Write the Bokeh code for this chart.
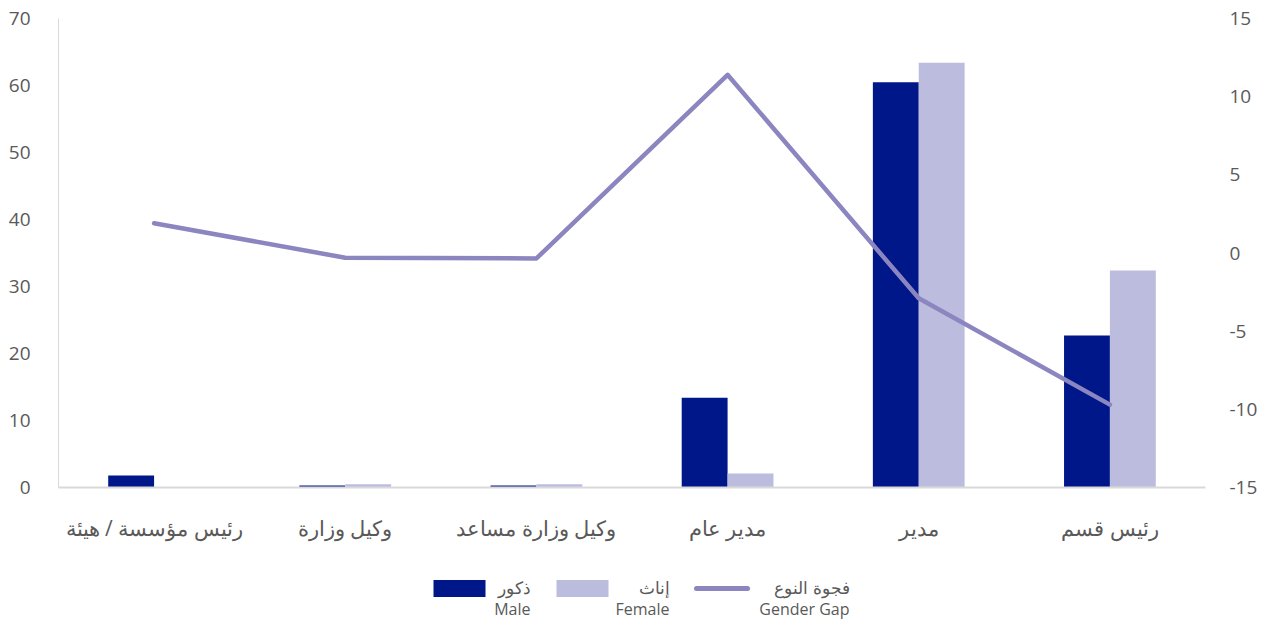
from bokeh.plotting import figure
from bokeh.models import (FactorRange, Range1d, LinearAxis, FixedTicker, ColumnDataSource)
from bokeh.transform import dodge
from bokeh.layouts import column
from bokeh.embed import file_html
from bokeh.resources import INLINE
from bokeh.core.properties import value

# ---- data ----
categories = ["رئيس مؤسسة / هيئة", "وكيل وزارة", "وكيل وزارة مساعد", "مدير عام", "مدير", "رئيس قسم"]
male = [1.8, 0.3, 0.3, 13.4, 60.5, 22.7]
female = [0.0, 0.5, 0.5, 2.1, 63.4, 32.4]
gender_gap = [1.9, -0.3, -0.35, 11.4, -2.9, -9.7]
left_ticks = [0, 10, 20, 30, 40, 50, 60, 70]
right_ticks = [-15, -10, -5, 0, 5, 10, 15]
legend_ar = ["ذكور", "إناث", "فجوة النوع"]
legend_en = ["Male", "Female", "Gender Gap"]

MALE_C = "#00178a"
FEMALE_C = "#bcbcdf"
GAP_C = "#8b85c0"
TXT_C = "#595959"
AX_C = "#d9d9d9"
FONT = "Open Sans"

src = ColumnDataSource(dict(cat=categories, male=male, female=female, gap=gender_gap))

W = 1261
FL, FR = 58, 1205          # frame left / right (px)
H_MAIN = 555
p = figure(width=W, height=H_MAIN, x_range=FactorRange(*categories, range_padding=0),
           y_range=Range1d(0, 70), output_backend="svg", toolbar_location=None,
           min_border_left=FL, min_border_right=W - FR, min_border_top=18,
           min_border_bottom=H_MAIN - 487)
p.extra_y_ranges = {"gap": Range1d(-15, 15)}

p.vbar(x=dodge("cat", -0.12, range=p.x_range), top="male", width=0.24, source=src,
       fill_color=MALE_C, line_color=None)
p.vbar(x=dodge("cat", 0.12, range=p.x_range), top="female", width=0.24, source=src,
       fill_color=FEMALE_C, line_color=None)
p.line(x="cat", y="gap", source=src, y_range_name="gap", line_color=GAP_C,
       line_width=4.5, line_cap="round", line_join="round")

p.outline_line_color = None
p.xgrid.visible = False
p.ygrid.visible = False

# left axis
la = p.yaxis[0]
la.ticker = FixedTicker(ticks=left_ticks)
la.major_label_overrides = {t: str(t) for t in left_ticks}
la.major_tick_out = 0
la.major_tick_in = 0
la.minor_tick_out = 0
la.minor_tick_in = 0
la.axis_line_color = AX_C
la.axis_line_width = 1
la.major_label_standoff = 28
la.major_label_text_font = FONT
la.major_label_text_font_size = "19px"
la.major_label_text_color = TXT_C

# right axis
ra = LinearAxis(y_range_name="gap", ticker=FixedTicker(ticks=right_ticks))
ra.major_label_overrides = {t: str(t) for t in right_ticks}
ra.major_tick_out = 0
ra.major_tick_in = 0
ra.minor_tick_out = 0
ra.minor_tick_in = 0
ra.axis_line_color = None
ra.major_label_standoff = 24
ra.major_label_text_font = FONT
ra.major_label_text_font_size = "19px"
ra.major_label_text_color = TXT_C
p.add_layout(ra, "right")

# bottom axis
xa = p.xaxis[0]
xa.major_tick_line_color = None
xa.minor_tick_line_color = None
xa.axis_line_color = AX_C
xa.axis_line_width = 2
xa.major_label_standoff = 20
xa.major_label_text_font = FONT
xa.major_label_text_font_size = "21px"
xa.major_label_text_color = TXT_C

# ---- legend figure (x in page pixels, frame aligned with main frame) ----
H_LG = 620 - H_MAIN
lg = figure(width=W, height=H_LG, x_range=Range1d(FL, FR), y_range=Range1d(0, H_LG),
            output_backend="svg", toolbar_location=None, x_axis_type=None, y_axis_type=None,
            min_border_left=FL, min_border_right=W - FR, min_border_top=0, min_border_bottom=0)
lg.outline_line_color = None
lg.xgrid.visible = False
lg.ygrid.visible = False

ya = H_LG - (588 - H_MAIN)   # row of Arabic labels / swatches
ye = H_LG - (608 - H_MAIN)   # row of English labels
lg.rect(x=[459, 582], y=[ya, ya], width=52, height=17, fill_color=[MALE_C, FEMALE_C], line_color=None)
lg.line(x=[696, 747], y=[ya, ya], line_color=GAP_C, line_width=5, line_cap="round")
tx = [530, 669, 849]
lg.text(x=tx, y=[ya + 1] * 3, text=legend_ar, text_align="right", text_baseline="middle",
        text_font=value(FONT), text_font_size="17px", text_color=TXT_C)
lg.text(x=tx, y=[ye] * 3, text=legend_en, text_align="right", text_baseline="middle",
        text_font=value(FONT), text_font_size="16px", text_color=TXT_C)

layout = column(p, lg, spacing=0)
open("out.html", "w").write(file_html(layout, INLINE))
